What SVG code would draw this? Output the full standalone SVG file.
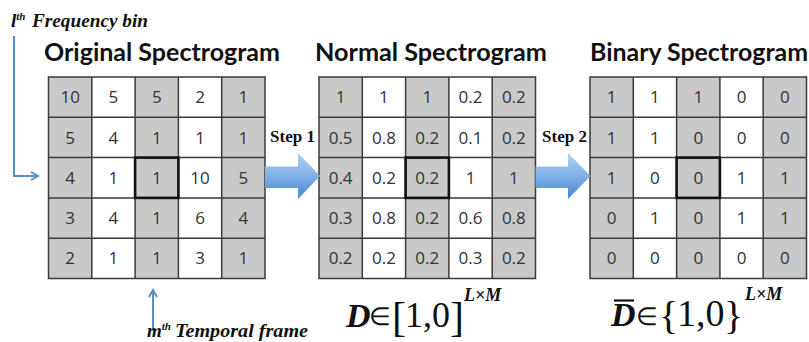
<svg xmlns="http://www.w3.org/2000/svg" width="809" height="342" viewBox="0 0 809 342">
<style>
.bg{fill:#ffffff}
.gray{fill:#c9c9c9}
.grid{fill:none;stroke:#3a3a3a;stroke-width:1.5}
.hl{fill:none;stroke:#111;stroke-width:2.6}
.num{font-family:"Open Sans","Liberation Sans",sans-serif;font-size:17px;fill:#333;text-anchor:middle}
.title{font-family:"Lato","Open Sans",sans-serif;font-weight:bold;font-size:24px;fill:#111}
.step{font-family:"Liberation Serif",serif;font-weight:bold;font-size:16px;fill:#111}
.lab{font-family:"Liberation Serif",serif;font-weight:bold;font-style:italic;fill:#111}
.math{font-family:"Liberation Serif",serif;fill:#111}
.v{font-style:italic;font-weight:bold}
.blue{fill:none;stroke:#5b8ec8;stroke-width:2}
</style>
<defs>
<linearGradient id="ag" x1="0" y1="0" x2="0" y2="1">
<stop offset="0" stop-color="#b3d4f5"/>
<stop offset="0.5" stop-color="#7fb0e8"/>
<stop offset="1" stop-color="#4a84cf"/>
</linearGradient>
<marker id="ah" markerWidth="10" markerHeight="10" refX="8" refY="5" orient="auto" markerUnits="userSpaceOnUse">
<path d="M1,1 L8,5 L1,9" fill="none" stroke="#5b8ec8" stroke-width="2"/>
</marker>
<g id="cells">
<rect x="0" y="0" width="216.5" height="201.5" class="bg"/>
<rect x="0" y="0" width="43.3" height="201.5" class="gray"/>
<rect x="86.6" y="0" width="43.3" height="201.5" class="gray"/>
<rect x="173.2" y="0" width="43.3" height="201.5" class="gray"/>
<path class="grid" d="M0,0H216.5V201.5H0Z M43.3,0V201.5 M86.6,0V201.5 M129.9,0V201.5 M173.2,0V201.5 M0,40.3H216.5 M0,80.6H216.5 M0,120.9H216.5 M0,161.2H216.5"/>
<rect x="86.6" y="80.6" width="43.3" height="40.3" class="hl"/>
</g>
</defs>

<text class="title" x="44" y="61" textLength="236" lengthAdjust="spacingAndGlyphs">Original Spectrogram</text>
<text class="title" x="315" y="61" textLength="232" lengthAdjust="spacingAndGlyphs">Normal Spectrogram</text>
<text class="title" x="590" y="61" textLength="218" lengthAdjust="spacingAndGlyphs">Binary Spectrogram</text>

<g id="original" transform="translate(48.5,77)">
<use href="#cells"/>
<text class="num" x="21.65" y="26.2">10</text><text class="num" x="64.95" y="26.2">5</text><text class="num" x="108.25" y="26.2">5</text><text class="num" x="151.55" y="26.2">2</text><text class="num" x="194.85" y="26.2">1</text>
<text class="num" x="21.65" y="66.5">5</text><text class="num" x="64.95" y="66.5">4</text><text class="num" x="108.25" y="66.5">1</text><text class="num" x="151.55" y="66.5">1</text><text class="num" x="194.85" y="66.5">1</text>
<text class="num" x="21.65" y="106.8">4</text><text class="num" x="64.95" y="106.8">1</text><text class="num" x="108.25" y="106.8">1</text><text class="num" x="151.55" y="106.8">10</text><text class="num" x="194.85" y="106.8">5</text>
<text class="num" x="21.65" y="147.1">3</text><text class="num" x="64.95" y="147.1">4</text><text class="num" x="108.25" y="147.1">1</text><text class="num" x="151.55" y="147.1">6</text><text class="num" x="194.85" y="147.1">4</text>
<text class="num" x="21.65" y="187.4">2</text><text class="num" x="64.95" y="187.4">1</text><text class="num" x="108.25" y="187.4">1</text><text class="num" x="151.55" y="187.4">3</text><text class="num" x="194.85" y="187.4">1</text>
</g>

<g id="normal" transform="translate(319,77)">
<use href="#cells"/>
<text class="num" x="21.65" y="26.2">1</text><text class="num" x="64.95" y="26.2">1</text><text class="num" x="108.25" y="26.2">1</text><text class="num" x="151.55" y="26.2">0.2</text><text class="num" x="194.85" y="26.2">0.2</text>
<text class="num" x="21.65" y="66.5">0.5</text><text class="num" x="64.95" y="66.5">0.8</text><text class="num" x="108.25" y="66.5">0.2</text><text class="num" x="151.55" y="66.5">0.1</text><text class="num" x="194.85" y="66.5">0.2</text>
<text class="num" x="21.65" y="106.8">0.4</text><text class="num" x="64.95" y="106.8">0.2</text><text class="num" x="108.25" y="106.8">0.2</text><text class="num" x="151.55" y="106.8">1</text><text class="num" x="194.85" y="106.8">1</text>
<text class="num" x="21.65" y="147.1">0.3</text><text class="num" x="64.95" y="147.1">0.8</text><text class="num" x="108.25" y="147.1">0.2</text><text class="num" x="151.55" y="147.1">0.6</text><text class="num" x="194.85" y="147.1">0.8</text>
<text class="num" x="21.65" y="187.4">0.2</text><text class="num" x="64.95" y="187.4">0.2</text><text class="num" x="108.25" y="187.4">0.2</text><text class="num" x="151.55" y="187.4">0.3</text><text class="num" x="194.85" y="187.4">0.2</text>
</g>

<g id="binary" transform="translate(590,77)">
<use href="#cells"/>
<text class="num" x="21.65" y="26.2">1</text><text class="num" x="64.95" y="26.2">1</text><text class="num" x="108.25" y="26.2">1</text><text class="num" x="151.55" y="26.2">0</text><text class="num" x="194.85" y="26.2">0</text>
<text class="num" x="21.65" y="66.5">1</text><text class="num" x="64.95" y="66.5">1</text><text class="num" x="108.25" y="66.5">0</text><text class="num" x="151.55" y="66.5">0</text><text class="num" x="194.85" y="66.5">0</text>
<text class="num" x="21.65" y="106.8">1</text><text class="num" x="64.95" y="106.8">0</text><text class="num" x="108.25" y="106.8">0</text><text class="num" x="151.55" y="106.8">1</text><text class="num" x="194.85" y="106.8">1</text>
<text class="num" x="21.65" y="147.1">0</text><text class="num" x="64.95" y="147.1">1</text><text class="num" x="108.25" y="147.1">0</text><text class="num" x="151.55" y="147.1">1</text><text class="num" x="194.85" y="147.1">1</text>
<text class="num" x="21.65" y="187.4">0</text><text class="num" x="64.95" y="187.4">0</text><text class="num" x="108.25" y="187.4">0</text><text class="num" x="151.55" y="187.4">0</text><text class="num" x="194.85" y="187.4">0</text>
</g>

<g id="connectors">
<path d="M265,166.5 H298 V153 L320,176 L298,199 V188 H265 Z" fill="url(#ag)"/>
<path d="M535.5,166.5 H568 V153 L590.5,176 L568,199 V188 H535.5 Z" fill="url(#ag)"/>
<path class="blue" d="M14,36 V176 H38" marker-end="url(#ah)"/>
<path class="blue" d="M153,331 V290" marker-end="url(#ah)"/>
</g>

<text class="step" x="270" y="142" textLength="45" lengthAdjust="spacingAndGlyphs">Step 1</text>
<text class="step" x="542" y="142" textLength="45" lengthAdjust="spacingAndGlyphs">Step 2</text>

<text class="lab" x="11" y="27" font-size="19">l<tspan font-size="11" dy="-7">th</tspan></text>
<text class="lab" x="32" y="27" font-size="19" textLength="116" lengthAdjust="spacingAndGlyphs">Frequency bin</text>
<text class="lab" x="147" y="337" font-size="19">m<tspan font-size="11" dy="-7">th</tspan></text>
<text class="lab" x="175" y="337" font-size="19" textLength="133" lengthAdjust="spacingAndGlyphs">Temporal frame</text>

<g id="formula1">
<text class="math"><tspan class="v" x="346" y="327" font-size="34">D</tspan><tspan x="369" y="325" font-size="25">∈</tspan><tspan x="392" y="331" font-size="42">[</tspan><tspan x="405" y="327" font-size="36">1,0</tspan><tspan x="450" y="331" font-size="42">]</tspan><tspan class="v" x="464" y="301" font-size="18">L×M</tspan></text>
</g>
<g id="formula2">
<path d="M614,300.5 H634" stroke="#111" stroke-width="2.2"/>
<text class="math"><tspan class="v" x="611" y="326" font-size="34">D</tspan><tspan x="636" y="325" font-size="25">∈</tspan><tspan x="659" y="329" font-size="40">{</tspan><tspan x="677" y="326" font-size="38">1,0</tspan><tspan x="724" y="329" font-size="40">}</tspan><tspan class="v" x="745" y="300" font-size="18">L×M</tspan></text>
</g>
</svg>
